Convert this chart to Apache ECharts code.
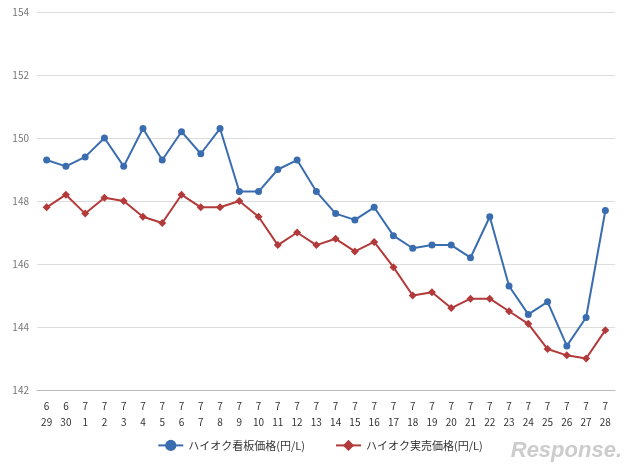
<!DOCTYPE html>
<html>
<head>
<meta charset="utf-8">
<script src="https://cdn.jsdelivr.net/npm/echarts@6/dist/echarts.min.js"></script>
<style>html,body{margin:0;padding:0;background:#fff}#chart{width:640px;height:470px}</style>
</head>
<body>
<div id="chart"></div>
<script>
const months = ['6','6','7','7','7','7','7','7','7','7','7','7','7','7','7','7','7','7','7','7','7','7','7','7','7','7','7','7','7','7'];
const days = ['29','30','1','2','3','4','5','6','7','8','9','10','11','12','13','14','15','16','17','18','19','20','21','22','23','24','25','26','27','28'];
const signPrice = [149.3,149.1,149.4,150.0,149.1,150.3,149.3,150.2,149.5,150.3,148.3,148.3,149.0,149.3,148.3,147.6,147.4,147.8,146.9,146.5,146.6,146.6,146.2,147.5,145.3,144.4,144.8,143.4,144.3,147.7];
const salePrice = [147.8,148.2,147.6,148.1,148.0,147.5,147.3,148.2,147.8,147.8,148.0,147.5,146.6,147.0,146.6,146.8,146.4,146.7,145.9,145.0,145.1,144.6,144.9,144.9,144.5,144.1,143.3,143.1,143.0,143.9];
const seriesNames = ['ハイオク看板価格(円/L)', 'ハイオク実売価格(円/L)'];

const categories = months.map((m, i) => m + '\n' + days[i]);
const font = '"Noto Sans CJK JP", sans-serif';

let myChart = echarts.init(document.getElementById('chart'));
let option = {
    animation: false,
    textStyle: { fontFamily: font },
    grid: { left: 37, right: 25, top: 12, bottom: 80 },
    legend: {
        bottom: 14,
        itemGap: 30,
        textStyle: { fontSize: 11, color: '#333' },
        data: seriesNames
    },
    xAxis: {
        type: 'category',
        boundaryGap: true,
        data: categories,
        axisLine: { lineStyle: { color: '#bbb' } },
        axisTick: { show: false },
        axisLabel: { color: '#333', fontSize: 10, interval: 0, lineHeight: 16 }
    },
    yAxis: {
        type: 'value',
        min: 142, max: 154, interval: 2,
        axisLabel: { color: '#777', fontSize: 10 },
        splitLine: { lineStyle: { color: '#ddd' } },
        axisLine: { show: false }
    },
    graphic: [{
        type: 'text', right: 18, bottom: 8,
        style: { text: 'Response.', fill: '#ccc', font: 'italic bold 22px Arial' }
    }],
    series: [{
        name: seriesNames[0],
        type: 'line',
        data: signPrice,
        symbol: 'circle', symbolSize: 7,
        itemStyle: { color: '#3a6db0' },
        lineStyle: { color: '#3a6db0', width: 2 }
    }, {
        name: seriesNames[1],
        type: 'line',
        data: salePrice,
        symbol: 'diamond', symbolSize: 8,
        itemStyle: { color: '#b23a3a' },
        lineStyle: { color: '#b23a3a', width: 2 }
    }]
};
myChart.setOption(option);
</script>
</body>
</html>
